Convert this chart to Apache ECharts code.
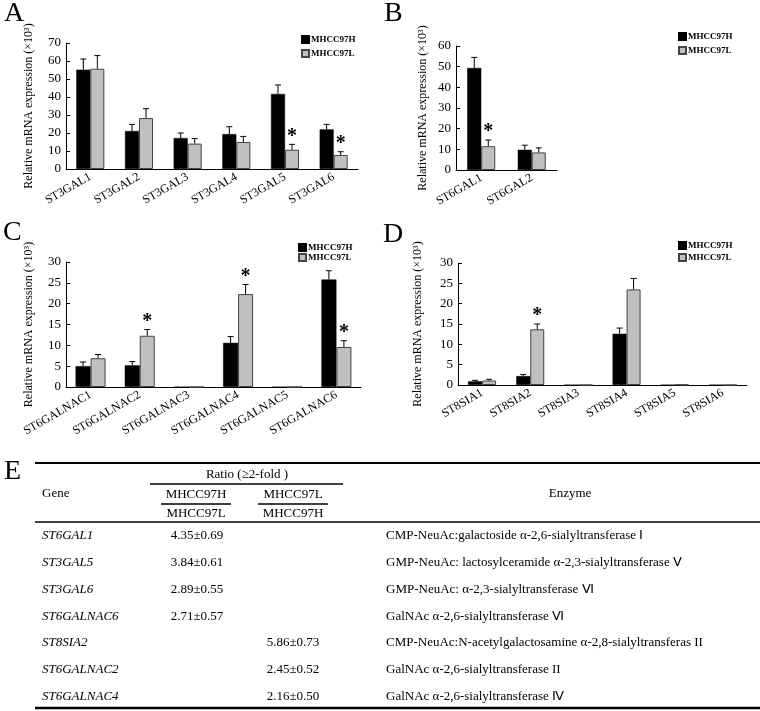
<!DOCTYPE html>
<html><head><meta charset="utf-8">
<script src="https://cdn.jsdelivr.net/npm/echarts/dist/echarts.min.js"></script>
<style>html,body{margin:0;padding:0;background:#fff}#c{width:760px;height:711px}</style>
</head><body><div id="c"></div>
<script>
// ---------- data ----------
const seriesNames = ['MHCC97H', 'MHCC97L'];

const catsA = ['ST3GAL1','ST3GAL2','ST3GAL3','ST3GAL4','ST3GAL5','ST3GAL6'];
const A_H = [55.2, 21.1, 17.2, 19.4, 41.7, 22.0];
const A_Hup = [61.1, 24.8, 20.0, 23.5, 46.7, 24.8];
const A_L = [55.7, 28.3, 14.1, 15.0, 10.7, 7.8];
const A_Lup = [63.0, 33.5, 16.9, 18.1, 13.7, 9.6];
const A_sig = [0, 0, 0, 0, 1, 1];

const catsB = ['ST6GAL1','ST6GAL2'];
const B_H = [49.4, 9.8];
const B_Hup = [54.5, 12.0];
const B_L = [11.5, 8.5];
const B_Lup = [14.5, 10.7];
const B_sig = [1, 0];

const catsC = ['ST6GALNAC1','ST6GALNAC2','ST6GALNAC3','ST6GALNAC4','ST6GALNAC5','ST6GALNAC6'];
const C_H = [5.0, 5.2, 0, 10.6, 0, 25.8];
const C_Hup = [6.0, 6.1, 0, 12.1, 0, 27.9];
const C_L = [6.9, 12.3, 0, 22.3, 0, 9.6];
const C_Lup = [7.8, 13.8, 0, 24.6, 0, 11.1];
const C_sig = [0, 1, 0, 1, 0, 1];

const catsD = ['ST8SIA1','ST8SIA2','ST8SIA3','ST8SIA4','ST8SIA5','ST8SIA6'];
const D_H = [0.9, 2.2, 0, 12.6, 0, 0];
const D_Hup = [1.15, 2.6, 0, 14.0, 0, 0];
const D_L = [1.1, 13.7, 0, 23.5, 0.1, 0];
const D_Lup = [1.4, 15.0, 0, 26.2, 0.1, 0];
const D_sig = [0, 1, 0, 0, 0, 0];

const yTicksA = [0, 70, 10];
const yTicksB = [0, 60, 10];
const yTicksC = [0, 30, 5];
const yTicksD = [0, 30, 5];

const yName = 'Relative mRNA expression (\u00d710\u00b3)';

// table
const tableGenes = ['ST6GAL1','ST3GAL5','ST3GAL6','ST6GALNAC6','ST8SIA2','ST6GALNAC2','ST6GALNAC4'];
const ratioHL = ['4.35\u00b10.69','3.84\u00b10.61','2.89\u00b10.55','2.71\u00b10.57','','',''];
const ratioLH = ['','','','','5.86\u00b10.73','2.45\u00b10.52','2.16\u00b10.50'];
const enzymes = [
  'CMP-NeuAc:galactoside \u03b1-2,6-sialyltransferase \u2160',
  'GMP-NeuAc: lactosylceramide \u03b1-2,3-sialyltransferase \u2164',
  'GMP-NeuAc: \u03b1-2,3-sialyltransferase \u2165',
  'GalNAc \u03b1-2,6-sialyltransferase \u2165',
  'CMP-NeuAc:N-acetylgalactosamine \u03b1-2,8-sialyltransferas II',
  'GalNAc \u03b1-2,6-sialyltransferase II',
  'GalNAc \u03b1-2,6-sialyltransferase \u2163'
];

// ---------- build ----------
const SERIF = '"Liberation Serif","Times New Roman",serif';
const panels = [
  {cats: catsA, H: A_H, Hup: A_Hup, L: A_L, Lup: A_Lup, sig: A_sig, yt: yTicksA,
   grid: {left: 66, top: 43, width: 292, height: 126}, bw: 14, nameGap: 31,
   legend: {left: 296, top: 30, itemGap: 5}},
  {cats: catsB, H: B_H, Hup: B_Hup, L: B_L, Lup: B_Lup, sig: B_sig, yt: yTicksB,
   grid: {left: 456, top: 46, width: 101, height: 124}, bw: 14, nameGap: 27,
   legend: {left: 673, top: 27, itemGap: 5}},
  {cats: catsC, H: C_H, Hup: C_Hup, L: C_L, Lup: C_Lup, sig: C_sig, yt: yTicksC,
   grid: {left: 66, top: 262, width: 295, height: 125}, bw: 15, nameGap: 31,
   legend: {left: 293, top: 238, itemGap: 1}},
  {cats: catsD, H: D_H, Hup: D_Hup, L: D_L, Lup: D_Lup, sig: D_sig, yt: yTicksD,
   grid: {left: 458, top: 263, width: 289, height: 122}, bw: 14, nameGap: 34,
   legend: {left: 673, top: 236, itemGap: 3}}
];

function errRender(barW, sign) {
  return function (params, api) {
    const i = api.value(0), v = api.value(1), up = api.value(2), sig = api.value(3);
    const base = api.coord([i, v]);
    const top = api.coord([i, up]);
    const x = base[0] + sign * barW / 2;
    const children = [];
    if (up > v) {
      children.push({type: 'line', shape: {x1: x, y1: base[1], x2: x, y2: top[1]}, style: {stroke: '#000', lineWidth: 1}});
      children.push({type: 'line', shape: {x1: x - 3, y1: top[1], x2: x + 3, y2: top[1]}, style: {stroke: '#000', lineWidth: 1}});
    }
    if (sig) {
      children.push({type: 'text', x: x, y: top[1] + 2,
        style: {text: '*', font: 'bold 20px ' + SERIF, textAlign: 'center', textVerticalAlign: 'bottom', fill: '#000'}});
    }
    return {type: 'group', children: children};
  };
}

const grids = [], xAxes = [], yAxes = [], series = [], legends = [];
panels.forEach((p, k) => {
  grids.push(Object.assign({}, p.grid));
  xAxes.push({
    type: 'category', gridIndex: k, data: p.cats,
    axisLine: {lineStyle: {color: '#000', width: 1}},
    axisTick: {inside: true, length: 4, lineStyle: {color: '#000'}},
    axisLabel: {rotate: 30, interval: 0, color: '#000', fontFamily: SERIF, fontSize: 12, margin: 7}
  });
  yAxes.push({
    type: 'value', gridIndex: k, min: p.yt[0], max: p.yt[1], interval: p.yt[2],
    name: yName, nameLocation: 'middle', nameGap: p.nameGap,
    nameTextStyle: {color: '#000', fontFamily: SERIF, fontSize: 12},
    axisLine: {show: true, lineStyle: {color: '#000', width: 1}},
    axisTick: {show: true, inside: true, length: 4, lineStyle: {color: '#000'}},
    axisLabel: {color: '#000', fontFamily: SERIF, fontSize: 13, margin: 5},
    splitLine: {show: false}
  });
  series.push({
    name: seriesNames[0], type: 'bar', xAxisIndex: k, yAxisIndex: k, data: p.H,
    barWidth: p.bw, barGap: '0%', itemStyle: {color: '#000', borderColor: '#000', borderWidth: 0.5}
  });
  series.push({
    name: seriesNames[1], type: 'bar', xAxisIndex: k, yAxisIndex: k, data: p.L,
    barWidth: p.bw, barGap: '0%', itemStyle: {color: '#c0c0c0', borderColor: '#444', borderWidth: 1}
  });
  series.push({
    name: 'errH' + k, type: 'custom', xAxisIndex: k, yAxisIndex: k, z: 5,
    renderItem: errRender(p.bw, -1),
    data: p.H.map((v, i) => [i, v, p.Hup[i], 0])
  });
  series.push({
    name: 'errL' + k, type: 'custom', xAxisIndex: k, yAxisIndex: k, z: 5,
    renderItem: errRender(p.bw, 1),
    data: p.L.map((v, i) => [i, v, p.Lup[i], p.sig[i]])
  });
  legends.push({
    data: seriesNames, orient: 'vertical', left: p.legend.left, top: p.legend.top,
    itemGap: p.legend.itemGap, itemWidth: 7, itemHeight: 7, icon: 'rect', selectedMode: false,
    textStyle: {color: '#000', fontFamily: SERIF, fontSize: 9, fontWeight: 'bold', padding: [0, 0, 0, -3]}
  });
});

// panel letters + table graphics
const graphic = [];
const letters = [['A', 4, 15], ['B', 384, 15], ['C', 3, 234], ['D', 383, 236], ['E', 4, 473]];
letters.forEach(l => graphic.push({type: 'text', left: l[1], top: l[2] - 15,
  style: {text: l[0], font: '28px ' + SERIF, fill: '#000'}}));

function hline(x1, x2, y, w) {
  graphic.push({type: 'line', shape: {x1: x1, y1: y, x2: x2, y2: y}, style: {stroke: '#000', lineWidth: w}});
}
function txt(s, x, y, align, italic) {
  graphic.push({type: 'text', x: x, y: y,
    style: {text: s, font: (italic ? 'italic ' : '') + '13px ' + SERIF, fill: '#000',
            textAlign: align, textVerticalAlign: 'middle'}});
}
hline(35, 760, 463, 2);
hline(35, 760, 522, 1.5);
hline(35, 760, 708, 2.5);
hline(150, 343, 484, 1.5);
hline(161, 231, 504, 1.5);
hline(258, 328, 504, 1.5);
txt('Ratio (\u22652-fold )', 247, 475, 'center');
txt('Gene', 42, 494, 'left');
txt('MHCC97H', 196, 495, 'center');
txt('MHCC97L', 196, 514, 'center');
txt('MHCC97L', 293, 495, 'center');
txt('MHCC97H', 293, 514, 'center');
txt('Enzyme', 570, 494, 'center');
tableGenes.forEach((g, i) => {
  const y = 536 + i * 26.7;
  txt(g, 42, y, 'left', true);
  if (ratioHL[i]) txt(ratioHL[i], 197, y, 'center');
  if (ratioLH[i]) txt(ratioLH[i], 293, y, 'center');
  txt(enzymes[i], 386, y, 'left');
});

const chart = echarts.init(document.getElementById('c'), null, {renderer: 'canvas'});
chart.setOption({
  animation: false,
  backgroundColor: '#fff',
  grid: grids, xAxis: xAxes, yAxis: yAxes, series: series, legend: legends,
  graphic: graphic
});
</script></body></html>
